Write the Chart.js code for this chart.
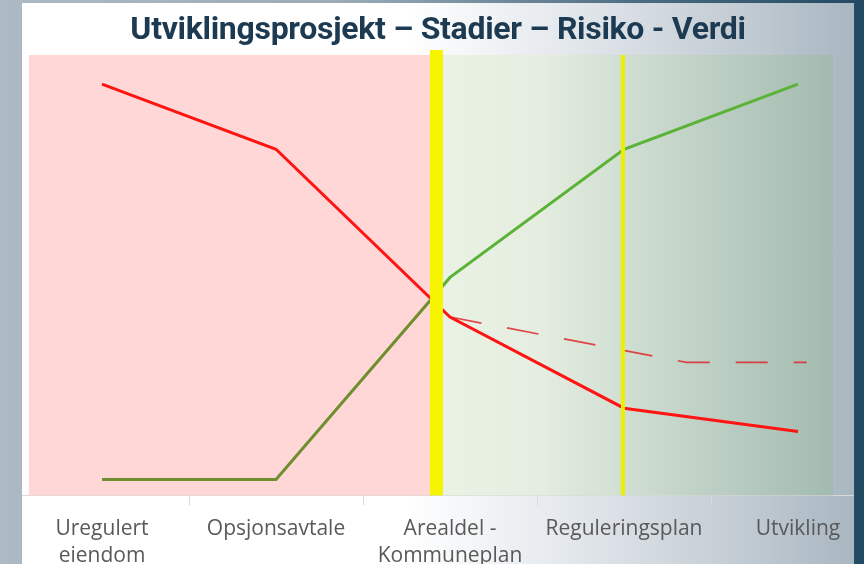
<!DOCTYPE html>
<html>
<head>
<meta charset="utf-8">
<script src="https://cdn.jsdelivr.net/npm/chart.js@4.4.1/dist/chart.umd.min.js"></script>
<style>
  html, body { margin: 0; padding: 0; }
  body {
    width: 864px; height: 564px; overflow: hidden; position: relative;
    background: linear-gradient(to right, #adbac3 0%, #9aabb7 40%, #4a6a80 75%, #234a63 100%);
  }
  #panel {
    position: absolute; left: 22px; top: 3px; width: 832px; height: 561px; overflow: hidden;
    background: linear-gradient(to right, #ffffff 0%, #ffffff 46%, #e6eaee 64%, #c6cfd6 84%, #a9b7c1 100%);
  }
  #wrap { position: absolute; left: -22px; top: -3px; width: 900px; height: 600px; }
  #title {
    position: absolute; left: 0; top: 9px; width: 876px; text-align: center;
    font-family: Roboto, sans-serif; font-weight: 700; font-size: 32px; color: #1c3a52;
    letter-spacing: -0.3px;
  }
</style>
</head>
<body>
<div id="panel">
  <div id="wrap"><canvas id="chart"></canvas></div>
</div>
<div id="title">Utviklingsprosjekt – Stadier – Risiko - Verdi</div>
<script>
// stages along the x axis
const stages = [['Uregulert', 'eiendom'], 'Opsjonsavtale', ['Arealdel -', 'Kommuneplan'], 'Reguleringsplan', 'Utvikling'];

// risk (red) and value (green), 0-100
const risiko = [93.4, 78.6, 40.5, 19.8, 14.5];
const verdi = [3.6, 3.6, 49.5, 78.6, 93.4];

// dashed red line, x in stage units
const dashX = [2, 3.36, 4.05];
const dashY = [40.5, 30.2, 30.2];

const splitAt = 1.922; // thick yellow marker

function greenColor(context) {
    const chart = context.chart;
    const area = chart.chartArea;
    if (!area || !chart.scales.x2) return '#5ab336';
    const x = chart.scales.x2.getPixelForValue(splitAt);
    const t = Math.min(1, Math.max(0, (x - area.left) / (area.right - area.left)));
    const g = chart.ctx.createLinearGradient(area.left, 0, area.right, 0);
    g.addColorStop(0, '#6f8f2f');
    g.addColorStop(t, '#6f8f2f');
    g.addColorStop(t, '#5ab336');
    g.addColorStop(1, '#5ab336');
    return g;
}

// background bands + yellow markers
const stagePlugin = {
    id: 'stages',
    beforeDatasetsDraw(chart, args, opts) {
        const { ctx, chartArea } = chart;
        const sx = chart.scales.x2;
        ctx.save();
        opts.bands.forEach(b => {
            const x0 = sx.getPixelForValue(b.from);
            const x1 = sx.getPixelForValue(b.to);
            if (b.colors) {
                const g = ctx.createLinearGradient(x0, 0, x1, 0);
                b.colors.forEach((c, i) => g.addColorStop(i / (b.colors.length - 1), c));
                ctx.fillStyle = g;
            } else {
                ctx.fillStyle = b.color;
            }
            ctx.fillRect(x0, chartArea.top, x1 - x0, chartArea.bottom - chartArea.top);
        });
        ctx.restore();
    },
    afterDatasetsDraw(chart, args, opts) {
        const { ctx, chartArea } = chart;
        const sx = chart.scales.x2;
        ctx.save();
        opts.markers.forEach(m => {
            const x = sx.getPixelForValue(m.at);
            ctx.fillStyle = m.color;
            ctx.fillRect(x - m.width / 2, chartArea.top - m.above, m.width, chartArea.bottom - chartArea.top + m.above);
        });
        ctx.restore();
    }
};

const ctx = document.getElementById('chart').getContext('2d');
const chart = new Chart(ctx, {
    type: 'line',
    data: {
        labels: stages,
        datasets: [
            {
                label: 'Verdi',
                data: verdi,
                borderColor: greenColor,
                borderWidth: 3,
                pointRadius: 0,
                tension: 0
            },
            {
                label: 'Risiko',
                data: risiko,
                borderColor: '#ff1414',
                borderWidth: 3,
                pointRadius: 0,
                tension: 0
            },
            {
                label: 'Risiko (alt.)',
                data: dashX.map((x, i) => ({ x: x, y: dashY[i] })),
                xAxisID: 'x2',
                borderColor: 'rgba(222, 40, 45, 0.85)',
                borderWidth: 1.7,
                borderDash: [32, 26],
                pointRadius: 0,
                tension: 0
            }
        ]
    },
    options: {
        responsive: true,
        maintainAspectRatio: false,
        animation: false,
        layout: { padding: { left: 15, right: 15, top: 55, bottom: 20 } },
        plugins: {
            legend: { display: false },
            tooltip: { enabled: false },
            stages: {
                bands: [
                    { from: -0.42, to: 1.885, color: '#ffd7d7' },
                    { from: 1.96, to: 4.201, colors: ['#eaf2e4', '#e4eddf', '#cddcd0', '#b8cbc0', '#a3bbaf'] }
                ],
                markers: [
                    { at: splitAt, width: 13, color: '#f6f400', above: 5 },
                    { at: 2.994, width: 4, color: '#eeee00', above: 0 }
                ]
            }
        },
        scales: {
            x: {
                offset: true,
                grid: { offset: true, drawOnChartArea: false, drawTicks: true, tickLength: 10, color: '#d9d9d9' },
                border: { display: true, color: '#d9d9d9', width: 1 },
                ticks: {
                    color: '#595959',
                    padding: 10,
                    maxRotation: 0,
                    autoSkip: false,
                    font: { family: 'Open Sans', size: 21, lineHeight: 1.3 }
                }
            },
            x2: { type: 'linear', display: false, min: -0.5, max: 4.5 },
            y: { display: false, min: 0, max: 100 }
        }
    },
    plugins: [stagePlugin]
});
</script>
</body>
</html>
